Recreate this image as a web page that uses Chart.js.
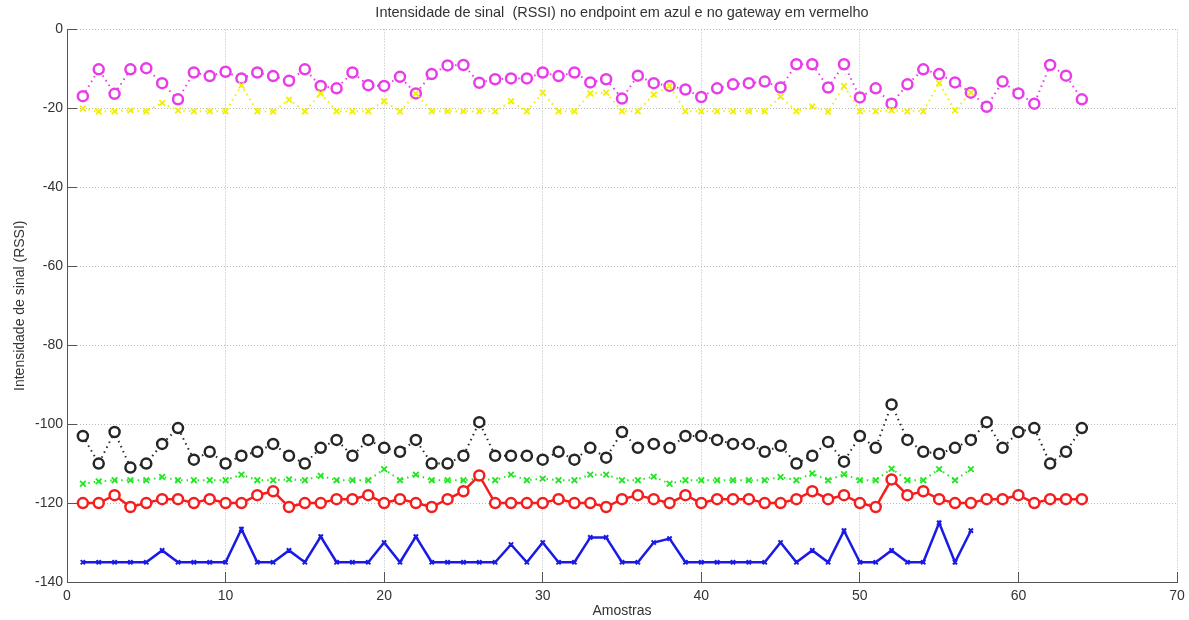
<!DOCTYPE html>
<html>
<head>
<meta charset="utf-8">
<script src="https://cdn.jsdelivr.net/npm/chart.js@4/dist/chart.umd.min.js"></script>
<style>
  html, body { margin: 0; padding: 0; background: #ffffff; }
  #wrap { width: 1189px; height: 620px; }
</style>
</head>
<body>
<div id="wrap"><canvas id="rssi" width="1189" height="620"></canvas></div>
<script>
// Sample numbers (x axis)
const amostras = [1,2,3,4,5,6,7,8,9,10,11,12,13,14,15,16,17,18,19,20,21,22,23,24,25,26,27,28,29,30,31,32,
  33,34,35,36,37,38,39,40,41,42,43,44,45,46,47,48,49,50,51,52,53,54,55,56,57,58,59,60,61,62,63,64];

// RSSI series (dBm)
const magenta = [-16.9,-10.1,-16.3,-10.1,-9.8,-13.6,-17.7,-10.9,-11.8,-10.7,-12.4,-10.9,-11.8,-13,-10.1,-14.3,
  -14.9,-10.9,-14.1,-14.3,-12,-16.2,-11.3,-9.1,-9,-13.5,-12.6,-12.4,-12.4,-10.9,-11.8,-10.9,
  -13.4,-12.6,-17.5,-11.7,-13.6,-14.3,-15.2,-17.1,-14.9,-13.9,-13.6,-13.2,-14.7,-8.8,-8.8,-14.7,
  -8.8,-17.2,-14.9,-18.8,-13.9,-10.1,-11.3,-13.4,-16,-19.6,-13.2,-16.2,-18.8,-9,-11.7,-17.7];

const amarelo = [-20,-20.8,-20.7,-20.5,-20.7,-18.6,-20.5,-20.7,-20.7,-20.7,-14.2,-20.7,-20.8,-17.8,-20.7,-16.2,
  -20.7,-20.7,-20.7,-18.2,-20.8,-16.2,-20.7,-20.7,-20.7,-20.7,-20.7,-18.2,-20.7,-16,-20.7,-20.7,
  -16.2,-16,-20.7,-20.7,-16.5,-14.3,-20.7,-20.7,-20.7,-20.7,-20.7,-20.7,-17,-20.7,-19.5,-20.8,
  -14.3,-20.7,-20.7,-20.5,-20.7,-20.7,-13.6,-20.5,-16];

const preto = [-103,-110,-102,-111,-110,-105,-101,-109,-107,-110,-108,-107,-105,-108,-110,-106,
  -104,-108,-104,-106,-107,-104,-110,-110,-108,-99.5,-108,-108,-108,-109,-107,-109,
  -106,-108.5,-102,-106,-105,-106,-103,-103,-104,-105,-105,-107,-105.5,-110,-108,-104.5,
  -109.5,-103,-106,-95,-104,-107,-107.5,-106,-104,-99.5,-106,-102,-101,-110,-107,-101];

const verde = [-115.1,-114.5,-114.2,-114.2,-114.2,-113.4,-114.2,-114.2,-114.2,-114.2,-112.8,-114.2,-114.2,-114,-114.2,-113.1,
  -114.2,-114.2,-114.2,-111.4,-114.2,-112.8,-114.2,-114.2,-114.2,-113.8,-114.2,-112.8,-114.2,-113.8,-114.2,-114.2,
  -112.8,-112.8,-114.2,-114.2,-113.3,-115.1,-114.2,-114.2,-114.2,-114.2,-114.2,-114.2,-113.4,-114.2,-112.5,-114.2,
  -112.7,-114.2,-114.2,-111.3,-114.2,-114.2,-111.4,-114.2,-111.4];

const gateway = [-120,-120,-118,-121,-120,-119,-119,-120,-119,-120,-120,-118,-117,-121,-120,-120,
  -119,-119,-118,-120,-119,-120,-121,-119,-117,-113,-120,-120,-120,-120,-119,-120,
  -120,-121,-119,-118,-119,-120,-118,-120,-119,-119,-119,-120,-120,-119,-117,-119,
  -118,-120,-121,-114,-118,-117,-119,-120,-120,-119,-119,-118,-120,-119,-119,-119];

const endpoint = [-135,-135,-135,-135,-135,-132,-135,-135,-135,-135,-126.6,-135,-135,-132,-135,-128.5,
  -135,-135,-135,-130,-135,-128.5,-135,-135,-135,-135,-135,-130.5,-135,-130,-135,-135,
  -128.7,-128.7,-135,-135,-130,-129,-135,-135,-135,-135,-135,-135,-130,-135,-132,-135,
  -127,-135,-135,-132,-135,-135,-125,-135,-127];

// Axis ticks
const xTicks = [0,10,20,30,40,50,60,70];
const yTicks = [0,-20,-40,-60,-80,-100,-120,-140];

const titulo = 'Intensidade de sinal  (RSSI) no endpoint em azul e no gateway em vermelho';
const rotuloX = 'Amostras';
const rotuloY = 'Intensidade de sinal (RSSI)';

function pontos(vals) {
  return vals.map((v, i) => ({ x: amostras[i], y: v }));
}

const FONT = "'Liberation Sans', Arial, sans-serif";

function serie(vals, color, opts) {
  return Object.assign({
    data: pontos(vals),
    borderColor: color,
    pointBorderColor: color,
    pointBackgroundColor: 'rgba(0,0,0,0)',
    backgroundColor: 'rgba(0,0,0,0)',
    fill: false,
    tension: 0
  }, opts);
}

const dotted = { borderWidth: 2, borderDash: [1.5, 4] };
const solid = { borderWidth: 2.5 };
const circle = { pointStyle: 'circle', pointRadius: 5, pointBorderWidth: 2.5, pointBackgroundColor: '#ffffff' };
const cross = { pointStyle: 'crossRot', pointRadius: 4, pointBorderWidth: 1.8 };

const datasets = [
  serie(magenta, '#e83ce8', Object.assign({ order: 6 }, dotted, circle)),
  serie(amarelo, '#f0f000', Object.assign({ order: 5 }, dotted, cross)),
  serie(preto, '#262626', Object.assign({ order: 4 }, dotted, circle)),
  serie(verde, '#22e622', Object.assign({ order: 3 }, dotted, cross)),
  serie(gateway, '#f51e1e', Object.assign({ order: 2 }, solid, circle)),
  serie(endpoint, '#1a1ae6', Object.assign({ order: 1 }, solid, cross, { pointRadius: 3, pointBorderWidth: 2 }))
];

function eixo(min, max, ticks, extra) {
  return Object.assign({
    type: 'linear',
    min: min,
    max: max,
    afterBuildTicks: (s) => { s.ticks = ticks.map(v => ({ value: v })); },
    grid: {
      color: '#b8b8b8',
      lineWidth: 1,
      drawTicks: true,
      tickLength: -10,
      tickColor: '#555555',
      tickWidth: 1,
      tickBorderDash: []
    },
    border: { display: true, color: '#555555', width: 1, dash: [1, 2] }
  }, extra);
}

new Chart(document.getElementById('rssi'), {
  type: 'line',
  data: { datasets: datasets },
  options: {
    responsive: false,
    devicePixelRatio: 1,
    animation: false,
    layout: { padding: { left: 0, right: 0, top: 0, bottom: 0 } },
    plugins: {
      legend: { display: false },
      tooltip: { enabled: false },
      title: {
        display: true,
        fullSize: false,
        text: titulo,
        color: '#333333',
        font: { family: FONT, size: 14.5, weight: 'normal' },
        padding: { top: 4.5, bottom: 7.6 }
      }
    },
    scales: {
      x: eixo(0, 70, xTicks, {
        position: 'bottom',
        ticks: { color: '#333333', font: { family: FONT, size: 14 }, padding: 16, maxRotation: 0 },
        title: { display: true, text: rotuloX, color: '#333333', font: { family: FONT, size: 14 }, padding: { top: 0, bottom: 0 } },
        afterFit: (s) => { s.height = 38; s.paddingLeft = 0; s.paddingRight = 12; }
      }),
      y: eixo(-140, 0, yTicks, {
        position: 'left',
        ticks: { color: '#333333', font: { family: FONT, size: 14 }, padding: 14 },
        title: { display: true, text: rotuloY, color: '#333333', font: { family: FONT, size: 14 }, padding: { top: 12, bottom: 0 } },
        afterFit: (s) => { s.width = 67; }
      })
    }
  }
});
</script>
</body>
</html>
